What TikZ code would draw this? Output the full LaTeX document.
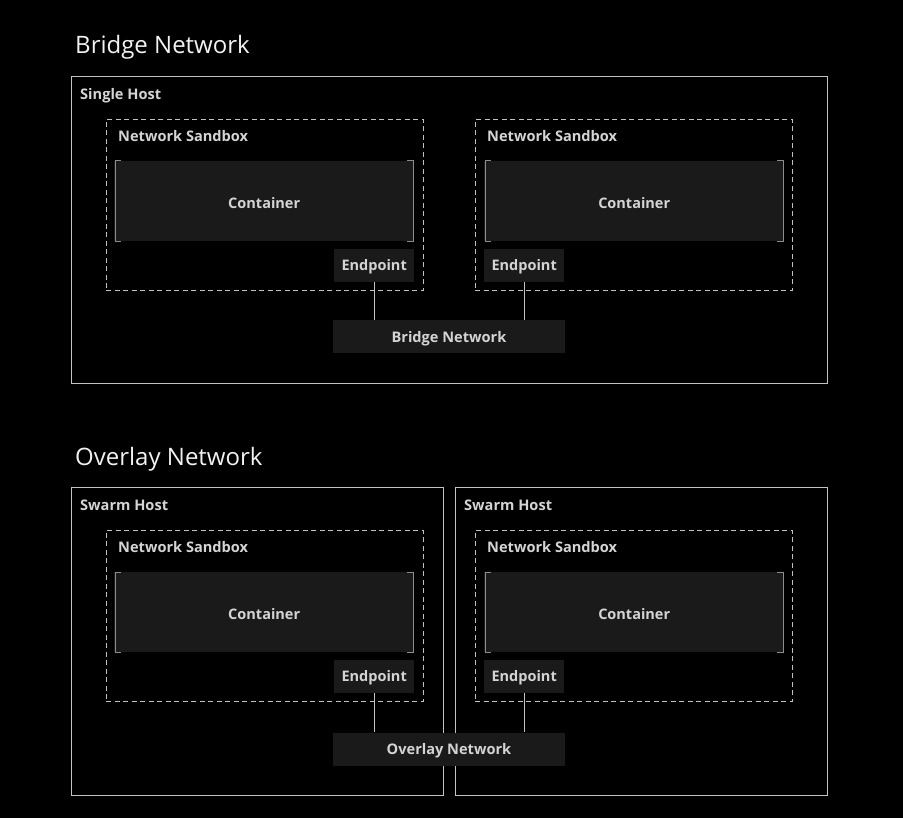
\documentclass[tikz,border=0pt]{standalone}
\usepackage{fontspec}
\setmainfont{Open Sans}
\setsansfont{Open Sans}
\usetikzlibrary{positioning}
\definecolor{linegray}{HTML}{C2C2C2}
\definecolor{textgray}{HTML}{D4D4D4}
\definecolor{titlewhite}{HTML}{F2F2F2}
\definecolor{boxfill}{HTML}{1A1A1A}
\definecolor{bracketgray}{HTML}{8C8C8C}

\begin{document}
\begin{tikzpicture}[x=1pt, y=-1pt,
  title/.style={anchor=base west, inner sep=0pt, text=titlewhite, font=\fontsize{24}{28}\selectfont},
  tag/.style={anchor=base west, inner sep=0pt, text=textgray, font=\bfseries\fontsize{14.6}{17}\selectfont},
  host/.style={draw=linegray, line width=1.1pt, anchor=north west, inner sep=0pt, minimum height=307pt},
  sandbox/.style={draw=linegray, line width=0.9pt, dash pattern=on 5pt off 3.5pt, anchor=north west, inner sep=0pt, minimum width=317pt, minimum height=171pt},
  container/.style={fill=boxfill, inner sep=0pt, minimum width=300pt, minimum height=80pt, text height=14.5pt, text depth=0pt, text=textgray, font=\bfseries\fontsize{14.5}{17}\selectfont},
  endpt/.style={fill=boxfill, inner sep=0pt, minimum width=80pt, minimum height=33pt, text height=10.4pt, text depth=0pt, text=textgray, font=\bfseries\fontsize{14.5}{17}\selectfont},
  netbox/.style={fill=boxfill, inner sep=0pt, minimum width=232pt, minimum height=33pt, text height=10.4pt, text depth=0pt, text=textgray, font=\bfseries\fontsize{14.6}{17}\selectfont},
  link/.style={draw=linegray, line width=0.9pt},
  bracket/.style={draw=bracketgray, line width=1pt}
]
  \useasboundingbox[fill=black] (0,0) rectangle (903,818);

  % bridge network
  \node[title] (t1) at (75,54) {Bridge Network};
  \node[host, minimum width=756pt] (h1) at (71,76) {};
  \node[tag] (h1l) at (80,99.5) {Single Host};

  \node[sandbox] (s1) at (106,119) {};
  \node[tag] (s1l) at (118,141.5) {Network Sandbox};
  \node[container, below right=42pt and 8pt of s1.north west] (c1) {Container};
  \node[endpt, below left=7pt and 0pt of c1.south east] (e1) {Endpoint};

  \node[sandbox] (s2) at (475,119) {};
  \node[tag] (s2l) at (487,141.5) {Network Sandbox};
  \node[container, below right=42pt and 9pt of s2.north west] (c2) {Container};
  \node[endpt, below right=7pt and 0pt of c2.south west] (e2) {Endpoint};

  \node[netbox] (bn) at (449,337) {Bridge Network};

  \draw[link] (e1.south) -- (e1.south |- bn.north);
  \draw[link] (e2.south) -- (e2.south |- bn.north);

  % overlay network
  \node[title] (t2) at (75,465) {Overlay Network};
  \node[host, minimum width=372pt, minimum height=308pt] (h2) at (71,487) {};
  \node[tag] (h2l) at (80,510.5) {Swarm Host};
  \node[host, minimum width=372pt, minimum height=308pt] (h3) at (455,487) {};
  \node[tag] (h3l) at (464,510.5) {Swarm Host};

  \node[sandbox] (s3) at (106,530) {};
  \node[tag] (s3l) at (118,552.5) {Network Sandbox};
  \node[container, below right=42pt and 8pt of s3.north west] (c3) {Container};
  \node[endpt, below left=7pt and 0pt of c3.south east] (e3) {Endpoint};

  \node[sandbox] (s4) at (475,530) {};
  \node[tag] (s4l) at (487,552.5) {Network Sandbox};
  \node[container, below right=42pt and 9pt of s4.north west] (c4) {Container};
  \node[endpt, below right=7pt and 0pt of c4.south west] (e4) {Endpoint};

  \node[netbox] (on) at (449,749) {Overlay Network};

  \draw[link] (e3.south) -- (e3.south |- on.north);
  \draw[link] (e4.south) -- (e4.south |- on.north);

  % container corner brackets
  \foreach \c in {c1,c2,c3,c4} {
    \draw[bracket] ([xshift=7pt]\c.north west) -- ([xshift=1pt]\c.north west) -- ([xshift=1pt]\c.south west) -- ([xshift=7pt]\c.south west);
    \draw[bracket] ([xshift=-7pt]\c.north east) -- ([xshift=-1pt]\c.north east) -- ([xshift=-1pt]\c.south east) -- ([xshift=-7pt]\c.south east);
  }
\end{tikzpicture}
\end{document}
